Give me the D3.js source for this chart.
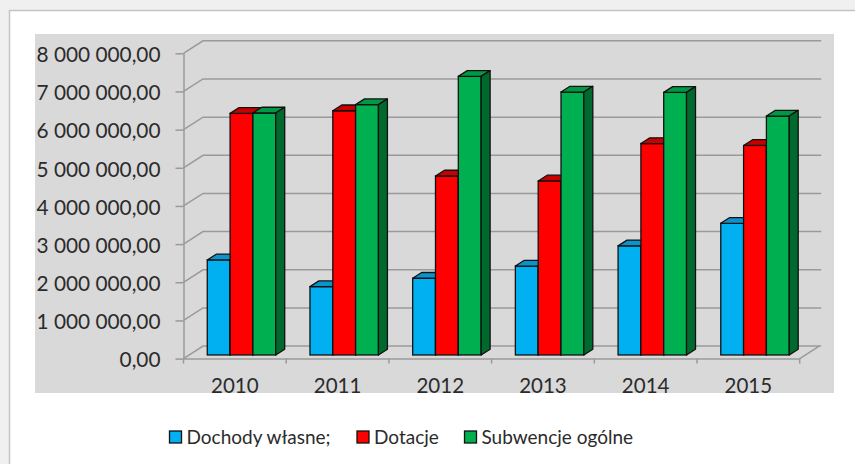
<!DOCTYPE html>
<html>
<head>
<meta charset="utf-8">
<script src="https://cdn.jsdelivr.net/npm/d3@7"></script>
<style>
  html, body { margin: 0; padding: 0; background: #fff; }
  svg { display: block; font-family: Lato, "Liberation Sans", sans-serif; }
</style>
</head>
<body>
<svg></svg>
<script>
var years = ["2010", "2011", "2012", "2013", "2014", "2015"];
var seriesNames = ["Dochody własne;", "Dotacje", "Subwencje ogólne"];
var dochody = [2490000, 1790000, 2010000, 2330000, 2860000, 3450000];
var dotacje = [6330000, 6400000, 4690000, 4560000, 5540000, 5490000];
var subwencje = [6340000, 6560000, 7300000, 6890000, 6880000, 6260000];
var yTicks = [0, 1000000, 2000000, 3000000, 4000000, 5000000, 6000000, 7000000, 8000000];

var width = 855,
  height = 464;

// front, top, side colours per series
var faces = [
  { front: "#00b0f0", top: "#0b94cc", side: "#0580b5" },
  { front: "#ff0000", top: "#c80000", side: "#b00000" },
  { front: "#00b050", top: "#009844", side: "#006a2e" }
];

var svg = d3.select("svg").attr("width", width).attr("height", height);

// outer frame with a light shadow
svg.append("rect").attr("width", width).attr("height", height).attr("fill", "#f0f0f0");
svg
  .append("rect")
  .attr("x", 9.5)
  .attr("y", 10.5)
  .attr("width", width + 20)
  .attr("height", height + 20)
  .attr("fill", "#fff")
  .attr("stroke", "#c4c4c4")
  .attr("stroke-width", 1.5);

// plot area
svg
  .append("rect")
  .attr("x", 35)
  .attr("y", 34)
  .attr("width", 799)
  .attr("height", 359)
  .attr("fill", "#d9d9d9");

var X0 = 183.5,
  X1 = 799.7,
  Y0 = 358.6,
  Y1 = 53.3,
  DX = 19.5,
  DY = -12.5;

var x = d3.scaleBand().domain(years).range([X0, X1]);
var xs = d3
  .scaleBand()
  .domain(seriesNames)
  .range([1, x.bandwidth() + 1])
  .paddingOuter(0.75);
var y = d3.scaleLinear().domain([0, 8000000]).range([Y0, Y1]);

var pl = d3.formatLocale({ decimal: ",", thousands: " ", grouping: [3], currency: ["", ""] });
var fmt = pl.format(",.2f");

// gridlines on the side and back walls
svg
  .append("g")
  .selectAll("path")
  .data(yTicks)
  .join("path")
  .attr("d", function (d) {
    var yy = y(d);
    return "M" + X0 + "," + yy + "L" + (X0 + DX) + "," + (yy + DY) + "L" + (X1 + DX + 2) + "," + (yy + DY);
  })
  .attr("fill", "none")
  .attr("stroke", "#9a9a9a")
  .attr("stroke-width", 1.5);

// floor right edge
svg
  .append("path")
  .attr("d", "M" + X1 + "," + Y0 + "L" + (X1 + DX) + "," + (Y0 + DY))
  .attr("stroke", "#9a9a9a")
  .attr("stroke-width", 1.5);

// y axis
var yAxis = d3.axisLeft(y).tickValues(yTicks).tickFormat(fmt).tickSize(8).tickSizeOuter(0).tickPadding(15);
var gy = svg.append("g").attr("transform", "translate(" + X0 + ",0)").call(yAxis);
gy.select(".domain").attr("stroke", "#9a9a9a").attr("stroke-width", 1.5);
gy.selectAll(".tick line").attr("stroke", "#9a9a9a").attr("stroke-width", 1.5);
gy.selectAll(".tick text")
  .attr("font-family", "Lato, sans-serif")
  .attr("font-size", "20.8px")
  .attr("fill", "#2b2b2b")
  .attr("dy", "0.4em");

// x axis
var xAxis = d3.axisBottom(x).tickSize(0).tickPadding(20);
var gx = svg.append("g").attr("transform", "translate(0," + Y0 + ")").call(xAxis);
gx.select(".domain").attr("stroke", "#9a9a9a").attr("stroke-width", 1.5);
gx.selectAll(".tick text").attr("font-family", "Lato, sans-serif").attr("font-size", "20.5px").attr("fill", "#2b2b2b");

var bounds = years.map(function (d) { return x(d); }).concat([X1]);
svg
  .append("g")
  .selectAll("line")
  .data(bounds)
  .join("line")
  .attr("x1", function (d) { return d; })
  .attr("x2", function (d) { return d; })
  .attr("y1", Y0)
  .attr("y2", Y0 + 5)
  .attr("stroke", "#9a9a9a")
  .attr("stroke-width", 1.5);

// bars, drawn left to right so later fronts hide earlier sides
var f0 = 0.29,
  fd = 0.46;
var bx = f0 * DX,
  by = f0 * DY,
  tx = fd * DX,
  ty = fd * DY;

var allSeries = [dochody, dotacje, subwencje];
var bars = [];
years.forEach(function (yr, i) {
  allSeries.forEach(function (vals, s) {
    bars.push({ year: yr, s: s, value: vals[i] });
  });
});

var bw = xs.bandwidth();
svg
  .append("g")
  .selectAll("g")
  .data(bars)
  .join("g")
  .each(function (d) {
    var el = d3.select(this);
    var x0 = x(d.year) + xs(seriesNames[d.s]) + bx;
    var yb = Y0 + by;
    var yt = y(d.value) + by;
    var c = faces[d.s];
    el.append("rect")
      .attr("x", x0)
      .attr("y", yt)
      .attr("width", bw)
      .attr("height", yb - yt)
      .attr("fill", c.front)
      .attr("stroke", "#111")
      .attr("stroke-width", 1.3);
    el.append("path")
      .attr("d", "M" + x0 + "," + yt + "L" + (x0 + tx) + "," + (yt + ty) + "L" + (x0 + bw + tx) + "," + (yt + ty) + "L" + (x0 + bw) + "," + yt + "Z")
      .attr("fill", c.top)
      .attr("stroke", "#111")
      .attr("stroke-width", 1.3)
      .attr("stroke-linejoin", "round");
    el.append("path")
      .attr("d", "M" + (x0 + bw) + "," + yt + "L" + (x0 + bw + tx) + "," + (yt + ty) + "L" + (x0 + bw + tx) + "," + (yb + ty) + "L" + (x0 + bw) + "," + yb + "Z")
      .attr("fill", c.side)
      .attr("stroke", "#111")
      .attr("stroke-width", 1.3)
      .attr("stroke-linejoin", "round");
  });

// legend
var legendX = [169.5, 357, 464.5];
var legend = svg
  .append("g")
  .selectAll("g")
  .data(seriesNames)
  .join("g")
  .attr("transform", function (d, i) { return "translate(" + legendX[i] + ",431)"; });

legend
  .append("rect")
  .attr("width", 12)
  .attr("height", 12)
  .attr("fill", function (d, i) { return faces[i].front; })
  .attr("stroke", "#111")
  .attr("stroke-width", 1.3);

legend
  .append("text")
  .attr("x", 17)
  .attr("y", 12.8)
  .attr("font-size", "19px")
  .attr("fill", "#2b2b2b")
  .text(function (d) { return d; });
</script>
</body>
</html>
